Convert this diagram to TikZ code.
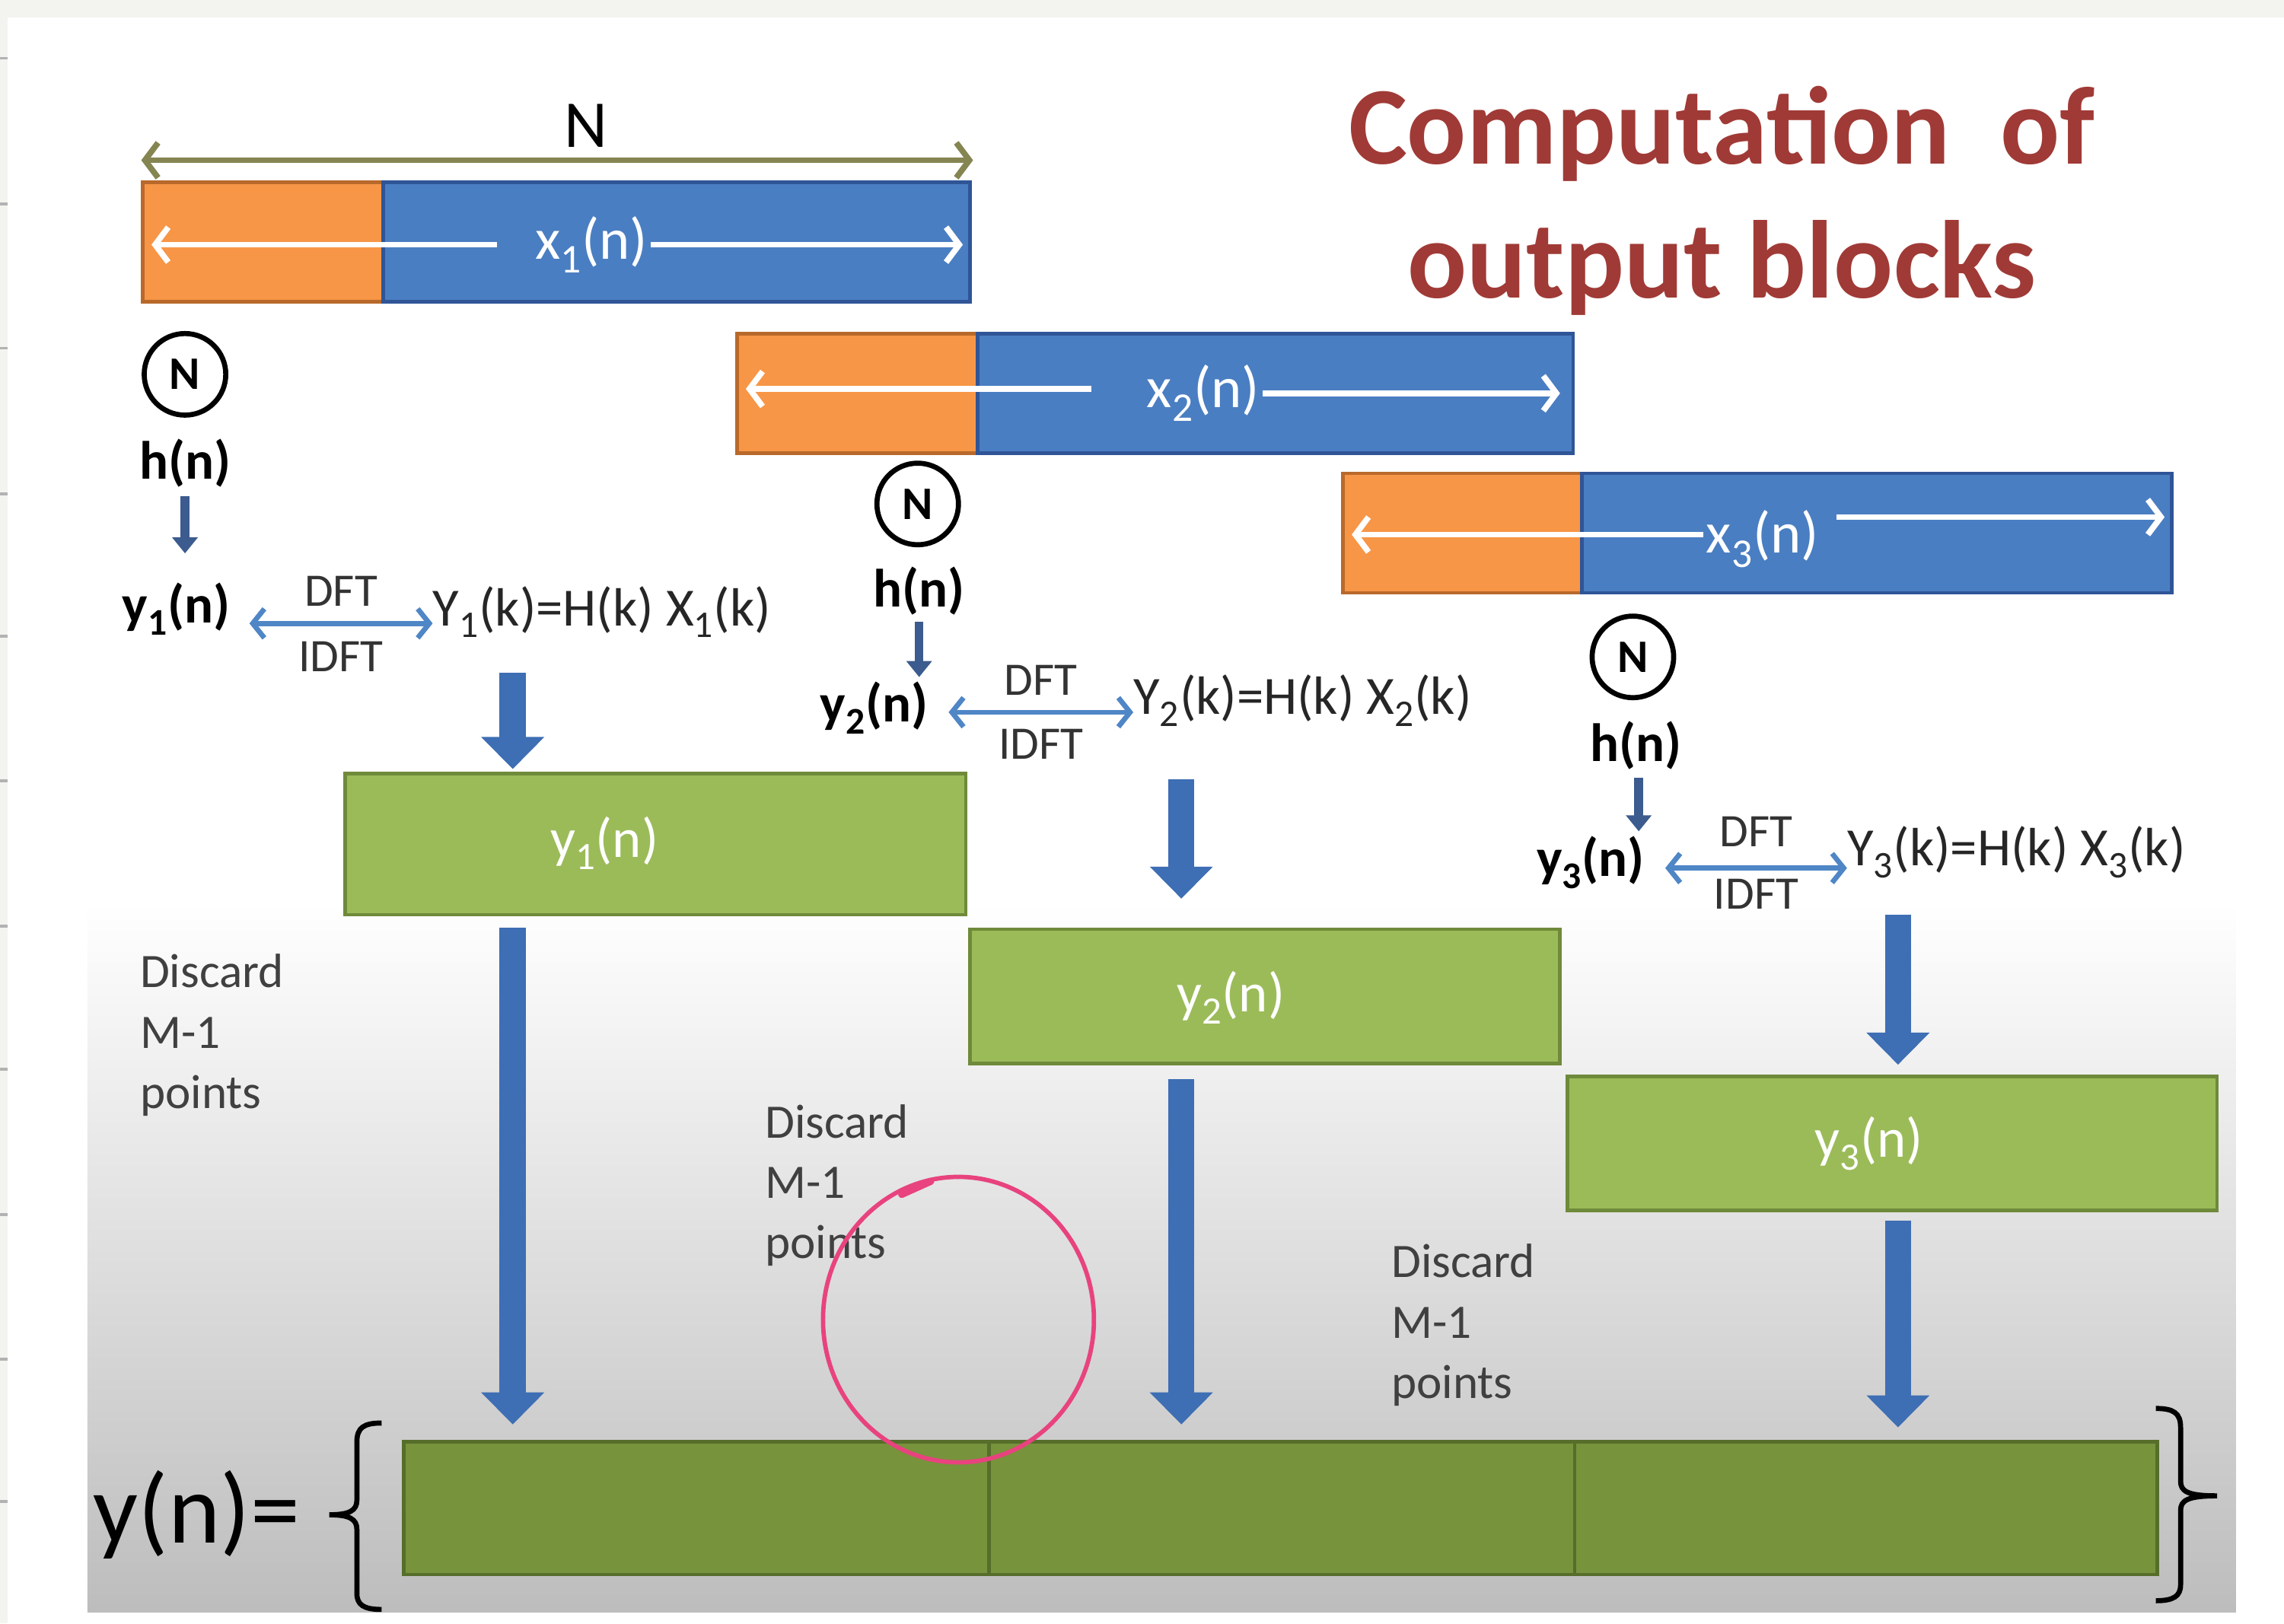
\documentclass[tikz,border=0pt]{standalone}
\usepackage{fontspec}
\setmainfont{Carlito}
\usetikzlibrary{arrows.meta,positioning,calc}
\definecolor{padfill}{HTML}{F79646}
\definecolor{padedge}{HTML}{B8692B}
\definecolor{datfill}{HTML}{4A7EC2}
\definecolor{datedge}{HTML}{2F5597}
\definecolor{outfill}{HTML}{9BBB59}
\definecolor{outedge}{HTML}{6F8A3A}
\definecolor{sumfill}{HTML}{77933C}
\definecolor{sumedge}{HTML}{566E2A}
\definecolor{flowblue}{HTML}{3E6EB4}
\definecolor{dftblue}{HTML}{4F86C6}
\definecolor{hblue}{HTML}{3C5B8E}
\definecolor{olivebar}{HTML}{858552}
\definecolor{titlered}{HTML}{A03A36}
\definecolor{pinkpen}{HTML}{E8437E}
\definecolor{pagegrey}{HTML}{F3F4EF}

\begin{document}
\begin{tikzpicture}[x=1pt,y=-1pt,
 blk/.style={draw,line width=2.5pt,inner sep=0pt,outer sep=0pt,minimum height=82pt,anchor=north west},
 padblk/.style={blk,fill=padfill,draw=padedge,minimum width=165pt},
 datblk/.style={blk,fill=datfill,draw=datedge},
 outblk/.style={blk,fill=outfill,draw=outedge,minimum height=92pt},
 sumblk/.style={blk,fill=sumfill,draw=sumedge,minimum height=91pt,minimum width=402pt},
 xlbl/.style={text=white,font=\fontsize{40}{42}\selectfont,inner sep=2pt},
 ylbl/.style={text=white,font=\fontsize{38}{40}\selectfont,inner sep=2pt},
 ncirc/.style={circle,draw,line width=3.5pt,minimum size=56pt,inner sep=0pt,font=\bfseries\fontsize{32}{34}\selectfont},
 bold/.style={font=\bfseries\fontsize{37}{39}\selectfont,inner sep=2pt},
 eqtxt/.style={font=\fontsize{37}{39}\selectfont,text=black!85,inner sep=2pt,anchor=west},
 small/.style={font=\fontsize{32}{34}\selectfont,text=black!80,inner sep=2pt},
 discard/.style={font=\fontsize{33}{41.5}\selectfont,text=black!75,align=left,anchor=north west,inner sep=0pt},
 warrow/.style={white,line width=4pt,-{Straight Barb[length=9pt,width=24pt]}},
 narrow/.style={olivebar,line width=4pt,{Straight Barb[length=9pt,width=24pt]}-{Straight Barb[length=9pt,width=24pt]}},
 harrow/.style={hblue,line width=6pt,-{Triangle[length=11pt,width=17pt]}},
 dftarrow/.style={dftblue,line width=3.5pt,{Straight Barb[length=8pt,width=20pt]}-{Straight Barb[length=8pt,width=20pt]}},
 bigarrow/.style={flowblue,line width=18pt,-{Triangle[length=22pt,width=42pt]}},
 brace/.style={black,line width=3.5pt}]
\useasboundingbox (0,0) rectangle (1568,1114.5);
% page and slide background
\fill[pagegrey] (0,0) rectangle (1568,1114.5);
\fill[white] (5,12) rectangle (1568,1114.5);
\shade[top color=white,bottom color=black!26] (60,620) rectangle (1535,1107);
\foreach \ty in {40,140,239,339,437,536,636,734,834,933,1031}
  \draw[black!30,line width=2pt] (0,\ty) -- (5,\ty);
% title
\node[font=\bfseries\fontsize{76}{92}\selectfont,text=titlered,align=center] (title) at (1182,138) {Computation\ \ of\\output blocks};
% input blocks
\node[padblk] (pad1) at (98,125) {};
\node[datblk,minimum width=403pt] (dat1) at (pad1.north east) {};
\node[padblk] (pad2) at (506,229) {};
\node[datblk,minimum width=409pt] (dat2) at (pad2.north east) {};
\node[padblk,minimum width=164pt] (pad3) at (922,325) {};
\node[datblk,minimum width=405pt] (dat3) at (pad3.north east) {};
\draw[narrow] ($(pad1.north west)+(-1,-15)$) -- ($(dat1.north east)+(2,-15)$)
  node[pos=0.535,above=5pt,text=black,font=\fontsize{46}{48}\selectfont,inner sep=2pt] (nlen) {N};
\node[xlbl] (lx1) at (406,168) {x\textsubscript{1}(n)};
\node[xlbl] (lx2) at (826,270) {x\textsubscript{2}(n)};
\node[xlbl] (lx3) at (1210,370) {x\textsubscript{3}(n)};
\draw[warrow] ($(lx1.west)+(-24,0)$) -- ($(lx1.west -| pad1.west)+(6,0)$);
\draw[warrow] (lx1.east) -- ($(lx1.east -| dat1.east)+(-5,0)$);
\draw[warrow] ($(lx2.west)+(-36,-3)$) -- ($(lx2.west -| pad2.west)+(6,-3)$);
\draw[warrow] (lx2.east) -- ($(lx2.east -| dat2.east)+(-9,0)$);
\draw[warrow] ($(lx3.west)+(0,-3)$) -- ($(lx3.west -| pad3.west)+(6,-3)$);
\draw[warrow] ($(lx3.east)+(10,-15)$) -- ($(lx3.east -| dat3.east)+(-5,-15)$);
% impulse response per block
\node[ncirc] (n1) at (127,257) {N};
\node[ncirc] (n2) at (630,346) {N};
\node[ncirc] (n3) at (1121,451) {N};
\node[bold] (h1) at (127,318) {h(n)};
\node[bold] (h2) at (631,406) {h(n)};
\node[bold] (h3) at (1123,512) {h(n)};
\node[bold] (y1) at (121,418) {y\textsubscript{1}(n)};
\node[bold] (y2) at (600,486) {y\textsubscript{2}(n)};
\node[bold] (y3) at (1092,592) {y\textsubscript{3}(n)};
\draw[harrow,shorten <=4pt,shorten >=18pt] (h1.south) -- (h1.south |- y1.north);
\draw[harrow,shorten <=2pt,shorten >=1pt] (h2.south) -- (h2.south |- y2.north);
\draw[harrow,shorten <=3pt,shorten >=1pt] ($(h3.south)+(2,0)$) -- ($(h3.south |- y3.north)+(2,0)$);
% DFT / IDFT
\node[eqtxt] (eq1) at (295,420) {Y\textsubscript{1}(k)=H(k) X\textsubscript{1}(k)};
\node[eqtxt] (eq2) at (776,481) {Y\textsubscript{2}(k)=H(k) X\textsubscript{2}(k)};
\node[eqtxt] (eq3) at (1266,585) {Y\textsubscript{3}(k)=H(k) X\textsubscript{3}(k)};
\draw[dftarrow] ($(y1.east)+(11,10)$) -- ($(eq1.west)+(2,8)$)
  node[midway,above=8pt,small] {DFT} node[midway,below=9pt,small] {IDFT};
\draw[dftarrow] ($(y2.east)+(12,3)$) -- ($(eq2.west)+(2,8)$)
  node[midway,above=8pt,small] {DFT} node[midway,below=8pt,small] {IDFT};
\draw[dftarrow] ($(y3.east)+(12,4)$) -- ($(eq3.west)+(2,11)$)
  node[midway,above=11pt,small] {DFT} node[midway,below=4pt,small] {IDFT};
% output blocks
\node[outblk,minimum width=426pt,minimum height=97pt] (g1) at (237,531) {};
\node[outblk,minimum width=405pt] (g2) at (666,638) {};
\node[outblk,minimum width=446pt] (g3) at (1076,739) {};
\node[ylbl] (ly1) at (415,579) {y\textsubscript{1}(n)};
\node[ylbl] (ly2) at (845,685) {y\textsubscript{2}(n)};
\node[ylbl] (ly3) at (1283,785) {y\textsubscript{3}(n)};
\node[sumblk] (s1) at (277,990) {};
\node[sumblk] (s2) at (s1.north east) {};
\node[sumblk,minimum width=400pt] (s3) at (s2.north east) {};
\coordinate (a1) at (352,462);
\coordinate (a2) at (811,535);
\coordinate (a3) at (1303,628);
\draw[bigarrow,shorten >=3pt] (a1) -- (a1 |- g1.north);
\draw[bigarrow,shorten >=21pt] (a2) -- (a2 |- g2.north);
\draw[bigarrow,shorten >=8pt] (a3) -- (a3 |- g3.north);
\draw[bigarrow,shorten <=9pt,shorten >=12pt] (a1 |- g1.south) -- (a1 |- s1.north);
\draw[bigarrow,shorten <=11pt,shorten >=12pt] (a2 |- g2.south) -- (a2 |- s2.north);
\draw[bigarrow,shorten <=7pt,shorten >=10pt] (a3 |- g3.south) -- (a3 |- s3.north);
\node[discard] (d1) at (96,655) {Discard\\M-1\\points};
\node[discard] (d2) at (525,758) {Discard\\M-1\\points};
\node[discard] (d3) at (955,854) {Discard\\M-1\\points};
% y(n) with braces
\node[font=\fontsize{68}{70}\selectfont,anchor=east,inner sep=0pt] (yout) at (206,1040) {y(n)=};
\draw[brace] (262,977) .. controls (250,977) and (245,980) .. (245,990) -- (245,1030)
  .. controls (245,1037) and (240,1040) .. (226,1040)
  .. controls (240,1040) and (245,1043) .. (245,1050) -- (245,1094)
  .. controls (245,1102) and (250,1105) .. (262,1105);
\draw[brace] (1480,967) .. controls (1492,967) and (1497,970) .. (1497,980) -- (1497,1017)
  .. controls (1497,1024) and (1502,1027) .. (1522,1027)
  .. controls (1502,1027) and (1497,1030) .. (1497,1037) -- (1497,1088)
  .. controls (1497,1096) and (1492,1099) .. (1480,1099);
% pen annotation
\draw[pinkpen,line width=3pt] (658,906) ellipse [x radius=93pt,y radius=98pt];
\draw[pinkpen,line width=5pt,line cap=round] (619,820) -- (639,811);
\end{tikzpicture}
\end{document}
